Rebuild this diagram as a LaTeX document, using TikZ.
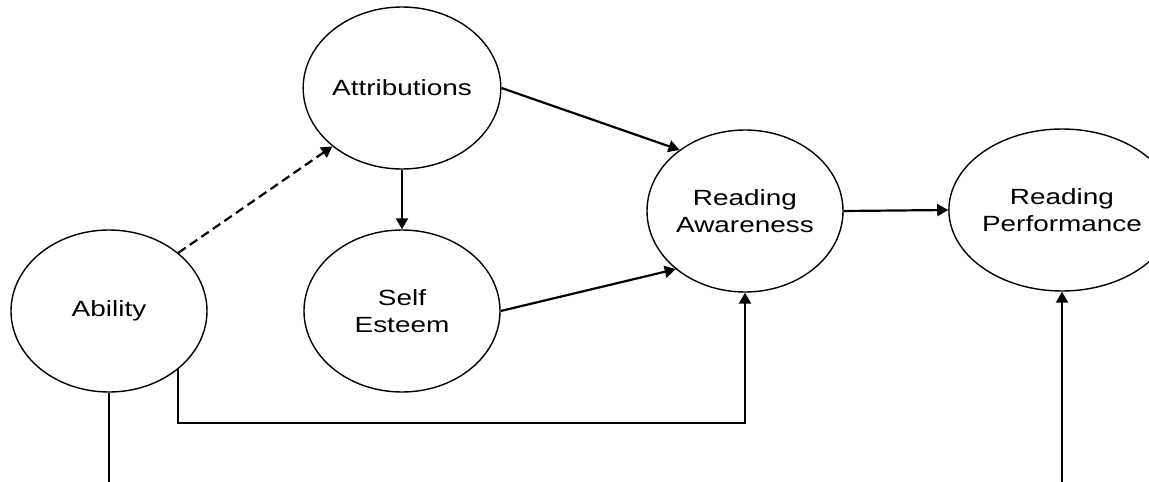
\documentclass[tikz,border=0pt]{standalone}
\usepackage{fontspec}
\newfontfamily\lblfont[FakeStretch=1.27]{Liberation Sans}
\usetikzlibrary{shapes.geometric,arrows.meta}
\begin{document}
\begin{tikzpicture}[x=1pt,y=-1pt,
  var/.style={draw,ellipse,line width=1.4pt,minimum width=196pt,minimum height=162pt,inner sep=0pt,
    align=center,font=\lblfont\fontsize{22pt}{27pt}\selectfont},
  conn/.style={line width=2.2pt},
  arr/.style={conn,-{Triangle[length=11pt,width=12pt]}},
  darr/.style={arr,dash pattern=on 9pt off 5pt}]
\clip (0,0) rectangle (1149,482);
\node[var] (abil) at (109,311) {Ability};
\node[var] (attr) at (402,88) {Attributions};
\node[var] (self) at (402,311) {Self\\Esteem};
\node[var] (raw)  at (745,211) {Reading\\Awareness};
\node[var] (rp)   at (1062,210) {Reading\\Performance};
\coordinate (abot) at (109,482);
\coordinate (rpbot) at (1062,482);
\coordinate (corner) at (745,423);
\draw[darr] (abil.40) -- (attr.220);
\draw[arr] (attr.east) -- (raw.137);
\draw[arr] (attr.south) -- (self.north);
\draw[arr] (self.east) -- (raw.220);
\draw[arr] (raw.east) -- (rp.west);
\draw[arr] (abil.320) |- (corner) -- (raw.south);
\draw[conn] (abil.south) -- (abot);
\draw[arr] (rpbot) -- (rp.south);
\end{tikzpicture}
\end{document}
